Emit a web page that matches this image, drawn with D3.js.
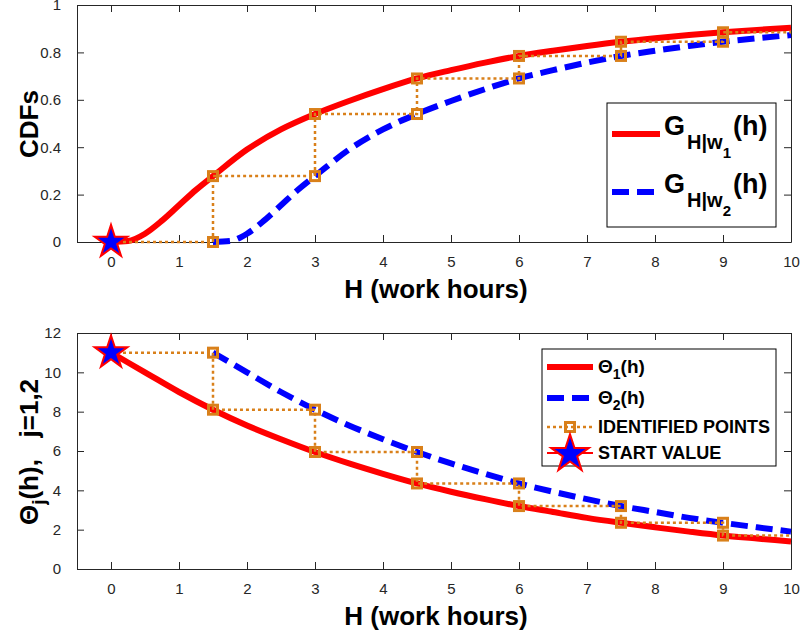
<!DOCTYPE html>
<html>
<head>
<meta charset="utf-8">
<script src="https://cdn.jsdelivr.net/npm/d3@7"></script>
<style>
  body { margin: 0; background: #fff; }
  text { font-family: "Liberation Sans", Arial, Helvetica, sans-serif; }
</style>
</head>
<body>
<div id="chart"></div>
<script>
// values
var hG1 = [0, 0.25, 0.5, 0.75, 1, 1.25, 1.5, 2, 2.5, 3, 3.5, 4, 4.5, 5, 5.5, 6, 6.5, 7, 7.5, 8, 8.5, 9, 9.5, 10];
var G1 = [0, 0.004, 0.035, 0.09, 0.155, 0.22, 0.278, 0.39, 0.475, 0.54, 0.595, 0.645, 0.69, 0.725, 0.757, 0.785, 0.807, 0.827, 0.845, 0.86, 0.873, 0.885, 0.895, 0.904];
var hG2 = [1.5, 1.75, 2, 2.25, 2.5, 2.75, 3, 3.5, 4, 4.5, 5, 5.5, 6, 6.5, 7, 7.5, 8, 8.5, 9, 9.5, 10];
var G2 = [0, 0.004, 0.035, 0.09, 0.155, 0.22, 0.278, 0.39, 0.475, 0.54, 0.595, 0.645, 0.69, 0.725, 0.757, 0.785, 0.807, 0.827, 0.845, 0.86, 0.873];

var hTheta1 = [0, 0.5, 1, 1.5, 2, 2.5, 3, 3.5, 4, 4.5, 5, 5.5, 6, 6.5, 7, 7.5, 8, 8.5, 9, 9.5, 10];
var Theta1 = [11, 10, 9, 8.1, 7.3, 6.6, 5.95, 5.37, 4.84, 4.35, 3.93, 3.55, 3.2, 2.9, 2.6, 2.35, 2.12, 1.9, 1.7, 1.55, 1.4];
var hTheta2 = [1.5, 2, 2.5, 3, 3.5, 4, 4.5, 5, 5.5, 6, 6.5, 7, 7.5, 8, 8.5, 9, 9.5, 10];
var Theta2 = [11, 10, 9, 8.1, 7.3, 6.6, 5.95, 5.37, 4.84, 4.35, 3.93, 3.55, 3.2, 2.9, 2.6, 2.35, 2.12, 1.9];

// identified points (staircase)
var stepH = [0, 1.5, 1.5, 3, 3, 4.5, 4.5, 6, 6, 7.5, 7.5, 9, 9, 10];
var stepCdf = [0, 0, 0.278, 0.278, 0.54, 0.54, 0.69, 0.69, 0.785, 0.785, 0.845, 0.845, 0.885, 0.885];
var stepTheta = [11, 11, 8.1, 8.1, 5.95, 5.95, 4.35, 4.35, 3.2, 3.2, 2.35, 2.35, 1.7, 1.7];

var startH = 0, startCdf = 0, startTheta = 11;

var xTicks = [0, 1, 2, 3, 4, 5, 6, 7, 8, 9, 10];
var cdfTicks = [0, 0.2, 0.4, 0.6, 0.8, 1];
var thetaTicks = [0, 2, 4, 6, 8, 10, 12];

var RED = "#ff0000", BLUE = "#0000ff", ORANGE = "#d9801a", AX = "#262626";

var svg = d3.select("#chart").append("svg")
    .attr("width", 800)
    .attr("height", 637);

var x = d3.scaleLinear().domain([-0.5, 10]).range([77, 791]);

var star = d3.symbol().type(d3.symbolStar).size(330);

function zip(a, b) { return a.map(function(d, i) { return [d, b[i]]; }); }

function drawPanel(top, bottom, yDomain, yTicks, fmt, curves, steps, startY) {
    var y = d3.scaleLinear().domain(yDomain).range([bottom, top]);
    var g = svg.append("g");

    // axes (box with inward ticks)
    g.append("g").attr("transform", `translate(0,${bottom})`)
        .call(d3.axisBottom(x).tickValues(xTicks).tickSize(-7).tickPadding(14).tickSizeOuter(0));
    g.append("g").attr("transform", `translate(0,${top})`)
        .call(d3.axisTop(x).tickValues(xTicks).tickSize(-7).tickFormat("").tickSizeOuter(0));
    g.append("g").attr("transform", `translate(77,0)`)
        .call(d3.axisLeft(y).tickValues(yTicks).tickSize(-7).tickPadding(16).tickFormat(fmt).tickSizeOuter(0));
    g.append("g").attr("transform", `translate(791,0)`)
        .call(d3.axisRight(y).tickValues(yTicks).tickSize(-7).tickFormat("").tickSizeOuter(0));
    g.selectAll(".domain").attr("stroke", AX);
    g.selectAll(".tick line").attr("stroke", AX);
    g.selectAll(".tick text").attr("fill", AX).style("font-size", "15px")
        .style("font-family", "'Liberation Sans', Arial, sans-serif");

    var line = d3.line().x(d => x(d[0])).y(d => y(d[1])).curve(d3.curveMonotoneX);

    curves.forEach(function(c) {
        g.append("path")
            .datum(zip(c.h, c.v))
            .attr("fill", "none")
            .attr("stroke", c.color)
            .attr("stroke-width", 6)
            .attr("stroke-dasharray", c.dash)
            .attr("d", line);
    });

    var pts = zip(stepH, steps);
    g.append("path")
        .datum(pts)
        .attr("fill", "none")
        .attr("stroke", ORANGE)
        .attr("stroke-width", 2.5)
        .attr("stroke-dasharray", "3,3")
        .attr("d", d3.line().x(d => x(d[0])).y(d => y(d[1])));

    g.selectAll(".pt")
        .data(pts.slice(1, pts.length - 1))
        .enter().append("rect")
        .attr("x", d => x(d[0]) - 4.5)
        .attr("y", d => y(d[1]) - 4.5)
        .attr("width", 9).attr("height", 9)
        .attr("fill", "none")
        .attr("stroke", ORANGE)
        .attr("stroke-width", 3);

    g.append("path")
        .attr("d", star)
        .attr("transform", `translate(${x(startH)},${y(startY)})`)
        .attr("fill", BLUE)
        .attr("stroke", RED)
        .attr("stroke-width", 2);

    // x axis title
    g.append("text")
        .attr("x", (77 + 791) / 2 + 2)
        .attr("y", bottom + 56)
        .attr("text-anchor", "middle")
        .style("font-size", "26px")
        .style("font-weight", "bold")
        .text("H (work hours)");
    return g;
}

var top1 = drawPanel(5, 242, [0, 1], cdfTicks, d3.format("~g"),
    [{h: hG1, v: G1, color: RED, dash: null},
     {h: hG2, v: G2, color: BLUE, dash: "17,8"}],
    stepCdf, startCdf);

var bot = drawPanel(333, 569, [0, 12], thetaTicks, d3.format("d"),
    [{h: hTheta1, v: Theta1, color: RED, dash: null},
     {h: hTheta2, v: Theta2, color: BLUE, dash: "17,8"}],
    stepTheta, startTheta);

// y titles
svg.append("text")
    .attr("transform", "translate(38,124) rotate(-90)")
    .attr("text-anchor", "middle")
    .style("font-size", "26px").style("font-weight", "bold")
    .text("CDFs");

var yl = svg.append("text")
    .attr("transform", "translate(38,452) rotate(-90)")
    .attr("text-anchor", "middle")
    .style("font-size", "26px").style("font-weight", "bold")
    .attr("xml:space", "preserve");
yl.append("tspan").text("\u0398");
yl.append("tspan").attr("dy", 7).style("font-size", "19px").text("j");
yl.append("tspan").attr("dy", -7).text("(h),   j=1,2");

// top legend
var lg1 = svg.append("g");
lg1.append("rect").attr("x", 607).attr("y", 103).attr("width", 169).attr("height", 124)
    .attr("fill", "#fff").attr("stroke", "#000").attr("stroke-width", 1);
[{yy: 134, color: RED, dash: null, sub: "1"}, {yy: 192, color: BLUE, dash: "17,8", sub: "2"}].forEach(function(e) {
    lg1.append("line").attr("x1", 612).attr("x2", 660).attr("y1", e.yy).attr("y2", e.yy)
        .attr("stroke", e.color).attr("stroke-width", 6).attr("stroke-dasharray", e.dash);
    var t = lg1.append("text").attr("x", 664).attr("y", e.yy + 1)
        .style("font-weight", "bold").style("font-size", "27px");
    t.append("tspan").text("G");
    t.append("tspan").attr("dx", 2).attr("dy", 14).style("font-size", "20px").text("H|w");
    t.append("tspan").attr("dy", 9).style("font-size", "15px").text(e.sub);
    t.append("tspan").attr("dx", 2).attr("dy", -23).text("(h)");
});

// bottom legend
var lg2 = svg.append("g");
lg2.append("rect").attr("x", 542).attr("y", 349).attr("width", 234).attr("height", 117)
    .attr("fill", "#fff").attr("stroke", "#000").attr("stroke-width", 1);
var rows = [367, 398, 427, 453];
lg2.append("line").attr("x1", 547).attr("x2", 593).attr("y1", rows[0]).attr("y2", rows[0])
    .attr("stroke", RED).attr("stroke-width", 6);
lg2.append("line").attr("x1", 547).attr("x2", 593).attr("y1", rows[1]).attr("y2", rows[1])
    .attr("stroke", BLUE).attr("stroke-width", 6).attr("stroke-dasharray", "17,8");
lg2.append("line").attr("x1", 547).attr("x2", 593).attr("y1", rows[2]).attr("y2", rows[2])
    .attr("stroke", ORANGE).attr("stroke-width", 2.5).attr("stroke-dasharray", "3,3");
lg2.append("rect").attr("x", 570 - 4.5).attr("y", rows[2] - 4.5).attr("width", 9).attr("height", 9)
    .attr("fill", "none").attr("stroke", ORANGE).attr("stroke-width", 3);
lg2.append("line").attr("x1", 547).attr("x2", 593).attr("y1", rows[3]).attr("y2", rows[3])
    .attr("stroke", RED).attr("stroke-width", 2);
lg2.append("path").attr("d", d3.symbol().type(d3.symbolStar).size(440))
    .attr("transform", `translate(570,${rows[3] + 1})`)
    .attr("fill", BLUE).attr("stroke", RED).attr("stroke-width", 2);

[["1", rows[0]], ["2", rows[1]]].forEach(function(e) {
    var t = lg2.append("text").attr("x", 598).attr("y", e[1] + 6)
        .style("font-weight", "bold").style("font-size", "19px");
    t.append("tspan").text("\u0398");
    t.append("tspan").attr("dy", 6).style("font-size", "14px").text(e[0]);
    t.append("tspan").attr("dy", -6).text("(h)");
});
lg2.append("text").attr("x", 598).attr("y", rows[2] + 6)
    .style("font-weight", "bold").style("font-size", "18px").text("IDENTIFIED POINTS");
lg2.append("text").attr("x", 598).attr("y", rows[3] + 6)
    .style("font-weight", "bold").style("font-size", "18px").text("START VALUE");
</script>
</body>
</html>
